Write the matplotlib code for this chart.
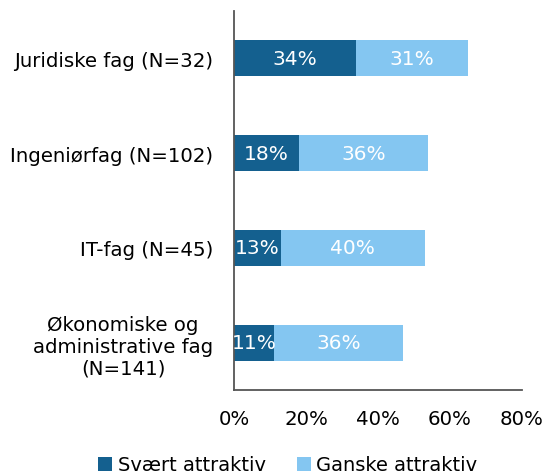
import numpy as np
import matplotlib.pyplot as plt

categories = ["Juridiske fag (N=32)", "Ingeniørfag (N=102)", "IT-fag (N=45)",
              "Økonomiske og\nadministrative fag\n(N=141)"]
svaert = [34, 18, 13, 11]
ganske = [31, 36, 40, 36]
series_names = ["Svært attraktiv", "Ganske attraktiv"]
xticks = [0, 20, 40, 60, 80]

dark = "#14608F"
light = "#84C6F1"

plt.rcParams["font.family"] = ["DejaVu Sans"]


def main():
    fig = plt.figure(figsize=(5.48, 4.77), dpi=100)
    ax = fig.add_axes((234 / 548, 1 - 391 / 477, 288 / 548, 379 / 477))

    y = np.arange(len(categories))
    h = 0.38
    ax.barh(y, svaert, height=h, color=dark, label=series_names[0])
    ax.barh(y, ganske, left=svaert, height=h, color=light, label=series_names[1])

    for i in range(len(categories)):
        ax.text(svaert[i] / 2, y[i], f"{svaert[i]}%", ha="center", va="center",
                color="white", fontsize=14.5)
        ax.text(svaert[i] + ganske[i] / 2, y[i], f"{ganske[i]}%", ha="center",
                va="center", color="white", fontsize=14.5)

    ax.set_ylim(len(categories) - 0.5, -0.5)
    ax.set_xlim(0, 80)
    ax.set_yticks(y)
    ax.set_yticklabels(categories, fontsize=14.2, linespacing=1.2)
    ax.set_xticks(xticks)
    ax.set_xticklabels([f"{t}%" for t in xticks], fontsize=14.2)
    ax.tick_params(axis="both", length=0)
    ax.tick_params(axis="x", pad=14)
    ax.tick_params(axis="y", pad=15)
    for lbl in ax.get_yticklabels():
        lbl.set_multialignment("center")

    ax.spines["top"].set_visible(False)
    ax.spines["right"].set_visible(False)
    ax.spines["left"].set_color("#555555")
    ax.spines["bottom"].set_color("#555555")
    ax.spines["left"].set_linewidth(1.3)
    ax.spines["bottom"].set_linewidth(1.3)

    fig.legend(loc="center", bbox_to_anchor=(288 / 548, 1 - 466 / 477), ncol=2,
               frameon=False, fontsize=14, handlelength=0.7, handleheight=0.7,
               handletextpad=0.3, columnspacing=1.6, borderpad=0)

    fig.savefig("out.png", dpi=100)


main()
